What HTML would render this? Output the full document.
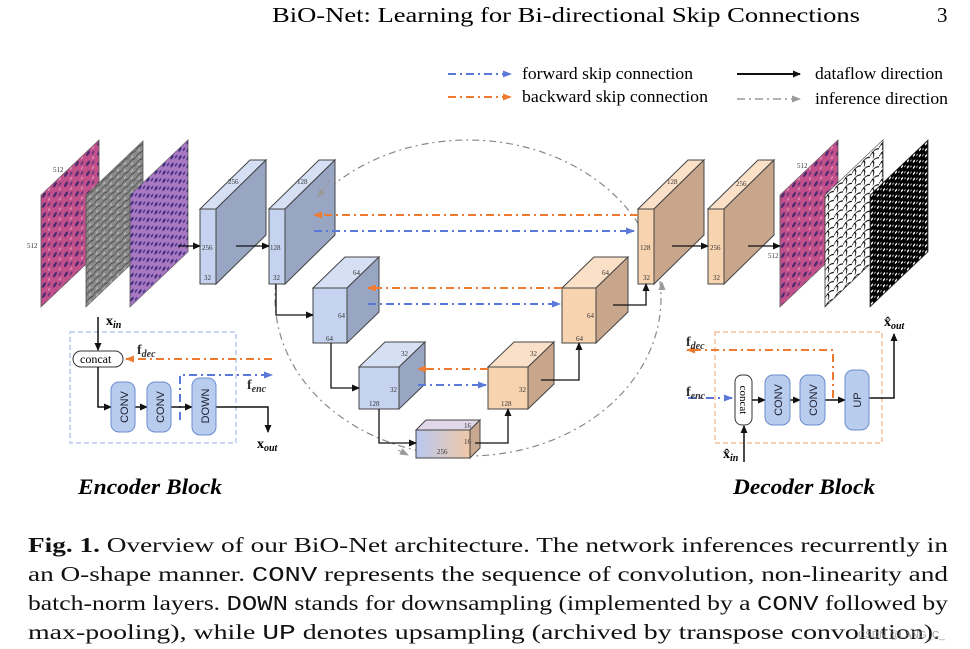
<!DOCTYPE html>
<html><head><meta charset="utf-8"><style>
html,body{margin:0;padding:0;background:#fff;width:970px;height:649px;overflow:hidden}
svg{display:block}
.s{font-family:"Liberation Serif",serif}
.m{font-family:"Liberation Mono",monospace}
.sm{font-family:"Liberation Serif",serif;font-size:7px;fill:#333}
.box{font-family:"Liberation Sans",sans-serif;font-size:11px;fill:#223}
</style></head><body>
<svg width="970" height="649" viewBox="0 0 970 649" xmlns="http://www.w3.org/2000/svg">
<defs>
<marker id="ak" markerWidth="8" markerHeight="8" refX="7" refY="4" orient="auto" markerUnits="userSpaceOnUse"><path d="M0,0.5 L8,4 L0,7.5 z" fill="#111"/></marker>
<marker id="ab" markerWidth="9" markerHeight="8" refX="8" refY="4" orient="auto" markerUnits="userSpaceOnUse"><path d="M0,0.5 L9,4 L0,7.5 z" fill="#5a78d8"/></marker>
<marker id="ao" markerWidth="9" markerHeight="8" refX="8" refY="4" orient="auto" markerUnits="userSpaceOnUse"><path d="M0,0.5 L9,4 L0,7.5 z" fill="#ee7b30"/></marker>
<marker id="ag" markerWidth="9" markerHeight="8" refX="8" refY="4" orient="auto" markerUnits="userSpaceOnUse"><path d="M0,0.5 L9,4 L0,7.5 z" fill="#999"/></marker>
<pattern id="pk" width="11" height="10" patternUnits="userSpaceOnUse"><rect width="11" height="10" fill="#c2508a"/><circle cx="3" cy="3" r="2" fill="#4a2a70"/><circle cx="8" cy="7" r="1.5" fill="#6a3a80"/><circle cx="8" cy="2" r="1" fill="#e89ac0"/></pattern>
<pattern id="pg" width="7" height="7" patternUnits="userSpaceOnUse"><rect width="7" height="7" fill="#8a8a8a"/><path d="M0,3 Q3,0 7,3" stroke="#444" fill="none"/><circle cx="4" cy="5.5" r="1" fill="#bbb"/></pattern>
<pattern id="pp" width="8" height="8" patternUnits="userSpaceOnUse"><rect width="8" height="8" fill="#a878c0"/><circle cx="2" cy="2" r="1.6" fill="#3a2a78"/><circle cx="6" cy="5.5" r="1.3" fill="#4a3090"/></pattern>
<pattern id="pw" width="9" height="9" patternUnits="userSpaceOnUse"><rect width="9" height="9" fill="#fff"/><path d="M0,4 Q4,0 9,5 M3,9 Q5,5 2,2" stroke="#000" fill="none" stroke-width="0.9"/></pattern>
<pattern id="pb" width="6" height="6" patternUnits="userSpaceOnUse"><rect width="6" height="6" fill="#000"/><circle cx="2" cy="2" r="1.1" fill="#fff"/><circle cx="5" cy="4.5" r="0.7" fill="#fff"/></pattern>
<linearGradient id="gr" x1="0" x2="1" y1="0" y2="0"><stop offset="0" stop-color="#b8c8f0"/><stop offset="1" stop-color="#f0c8a8"/></linearGradient>
</defs>

<text x="272" y="22" class="s" font-size="21" textLength="588" lengthAdjust="spacingAndGlyphs">BiO-Net: Learning for Bi-directional Skip Connections</text>
<text x="937" y="22" class="s" font-size="21">3</text>

<line x1="448" y1="74" x2="511" y2="74" stroke="#5a78d8" stroke-width="2" stroke-dasharray="8,4,2,4" marker-end="url(#ab)"/>
<text x="522" y="79" class="s" font-size="17" textLength="171" lengthAdjust="spacingAndGlyphs">forward skip connection</text>
<line x1="448" y1="97" x2="511" y2="97" stroke="#ee7b30" stroke-width="2" stroke-dasharray="8,4,2,4" marker-end="url(#ao)"/>
<text x="522" y="102" class="s" font-size="17" textLength="186" lengthAdjust="spacingAndGlyphs">backward skip connection</text>
<line x1="737" y1="74" x2="800" y2="74" stroke="#111" stroke-width="2" marker-end="url(#ak)"/>
<text x="815" y="79" class="s" font-size="17" textLength="128" lengthAdjust="spacingAndGlyphs">dataflow direction</text>
<line x1="737" y1="99" x2="800" y2="99" stroke="#999" stroke-width="1.6" stroke-dasharray="8,4,2,4" marker-end="url(#ag)"/>
<text x="815" y="104" class="s" font-size="17" textLength="133" lengthAdjust="spacingAndGlyphs">inference direction</text>

<ellipse cx="468" cy="298" rx="193" ry="158" fill="none" stroke="#888" stroke-width="1.2" stroke-dasharray="7,4,2,4"/>

<g transform="matrix(1,-0.95,0,1,41,195)"><rect width="58" height="112" fill="url(#pk)" stroke="#555" stroke-width="0.8"/></g>
<g transform="matrix(1,-0.95,0,1,86,195)"><rect width="57" height="112" fill="url(#pg)" stroke="#555" stroke-width="0.8"/></g>
<g transform="matrix(1,-0.95,0,1,130,195)"><rect width="58" height="112" fill="url(#pp)" stroke="#555" stroke-width="0.8"/></g>
<text x="53" y="172" class="sm">512</text>
<text x="27" y="248" class="sm">512</text>

<g transform="matrix(1,-0.95,0,1,780,195)"><rect width="58" height="112" fill="url(#pk)" stroke="#555" stroke-width="0.8"/></g>
<g transform="matrix(1,-0.95,0,1,825,195)"><rect width="58" height="112" fill="url(#pw)" stroke="#333" stroke-width="0.8"/></g>
<g transform="matrix(1,-0.95,0,1,870,195)"><rect width="58" height="112" fill="url(#pb)" stroke="#333" stroke-width="0.8"/></g>
<text x="797" y="168" class="sm">512</text>
<text x="768" y="258" class="sm">512</text>

<g stroke="#444" stroke-width="1">
<polygon points="200,209 250,160 266,160 216,209" fill="#d6e0f5"/>
<polygon points="216,209 266,160 266,235 216,284" fill="#98a6c4"/>
<rect x="200" y="209" width="16" height="75" fill="#c5d3f0"/>
<polygon points="269,209 319,160 335,160 285,209" fill="#d6e0f5"/>
<polygon points="285,209 335,160 335,235 285,284" fill="#98a6c4"/>
<rect x="269" y="209" width="16" height="75" fill="#c5d3f0"/>
<polygon points="313,288 345,257 379,257 347,288" fill="#d6e0f5"/>
<polygon points="347,288 379,257 379,312 347,343" fill="#98a6c4"/>
<rect x="313" y="288" width="34" height="55" fill="#c5d3f0"/>
<polygon points="359,367 385,342 425,342 399,367" fill="#d6e0f5"/>
<polygon points="399,367 425,342 425,384 399,409" fill="#98a6c4"/>
<rect x="359" y="367" width="40" height="42" fill="#c5d3f0"/>
<polygon points="416,430 426,420 480,420 470,430" fill="#e0d8e8"/>
<polygon points="470,430 480,420 480,448 470,458" fill="#c8a88e"/>
<rect x="416" y="430" width="54" height="28" fill="url(#gr)"/>
<polygon points="638,209 688,160 704,160 654,209" fill="#fbe0c8"/>
<polygon points="654,209 704,160 704,235 654,284" fill="#c8a68c"/>
<rect x="638" y="209" width="16" height="75" fill="#f8d3b0"/>
<polygon points="708,209 758,160 774,160 724,209" fill="#fbe0c8"/>
<polygon points="724,209 774,160 774,235 724,284" fill="#c8a68c"/>
<rect x="708" y="209" width="16" height="75" fill="#f8d3b0"/>
<polygon points="562,288 594,257 628,257 596,288" fill="#fbe0c8"/>
<polygon points="596,288 628,257 628,312 596,343" fill="#c8a68c"/>
<rect x="562" y="288" width="34" height="55" fill="#f8d3b0"/>
<polygon points="488,367 514,342 554,342 528,367" fill="#fbe0c8"/>
<polygon points="528,367 554,342 554,384 528,409" fill="#c8a68c"/>
<rect x="488" y="367" width="40" height="42" fill="#f8d3b0"/>
</g>
<g class="sm">
<text x="228" y="184">256</text><text x="202" y="250">256</text><text x="204" y="280">32</text>
<text x="297" y="184">128</text><text x="270" y="250">128</text><text x="273" y="280">32</text>
<text x="353" y="275">64</text><text x="338" y="318">64</text><text x="326" y="341">64</text>
<text x="401" y="356">32</text><text x="390" y="392">32</text><text x="369" y="406">128</text>
<text x="464" y="428">16</text><text x="464" y="444">16</text><text x="437" y="454">256</text>
<text x="667" y="184">128</text><text x="640" y="250">128</text><text x="643" y="280">32</text>
<text x="736" y="186">256</text><text x="710" y="250">256</text><text x="713" y="280">32</text>
<text x="602" y="275">64</text><text x="587" y="318">64</text><text x="576" y="341">64</text>
<text x="530" y="356">32</text><text x="519" y="392">32</text><text x="501" y="406">128</text>
</g>

<g stroke-width="2" stroke-dasharray="8,4,2,4" fill="none">
<line x1="638" y1="215" x2="314" y2="215" stroke="#ee7b30" marker-end="url(#ao)"/>
<line x1="314" y1="231" x2="634" y2="231" stroke="#5a78d8" marker-end="url(#ab)"/>
<line x1="562" y1="288" x2="368" y2="288" stroke="#ee7b30" marker-end="url(#ao)"/>
<line x1="368" y1="304" x2="560" y2="304" stroke="#5a78d8" marker-end="url(#ab)"/>
<line x1="488" y1="369" x2="418" y2="369" stroke="#ee7b30" marker-end="url(#ao)"/>
<line x1="418" y1="385" x2="486" y2="385" stroke="#5a78d8" marker-end="url(#ab)"/>
</g>
<line x1="330" y1="180" x2="318" y2="197" stroke="#999" stroke-width="1" marker-end="url(#ag)"/>
<line x1="662" y1="290" x2="662" y2="282" stroke="#999" stroke-width="1" marker-end="url(#ag)"/>
<line x1="398" y1="450" x2="408" y2="455" stroke="#999" stroke-width="1" marker-end="url(#ag)"/>

<g stroke="#111" stroke-width="1.3" fill="none" marker-end="url(#ak)">
<line x1="178" y1="246" x2="200" y2="246"/>
<line x1="236" y1="246" x2="269" y2="246"/>
<polyline points="276,284 276,315 313,315"/>
<polyline points="331,343 331,388 359,388"/>
<polyline points="379,409 379,443 416,443"/>
<polyline points="475,443 508,443 508,409"/>
<polyline points="541,380 579,380 579,343"/>
<polyline points="613,305 646,305 646,284"/>
<line x1="672" y1="246" x2="708" y2="246"/>
<line x1="748" y1="246" x2="780" y2="246"/>
</g>

<rect x="70" y="332" width="166" height="111" fill="none" stroke="#b8c8f0" stroke-width="1.5" stroke-dasharray="5,3"/>
<line x1="98" y1="317" x2="98" y2="350" stroke="#111" stroke-width="1.5" marker-end="url(#ak)"/>
<text x="106" y="325" class="s" font-size="14" font-weight="bold">x<tspan font-size="10" font-style="italic" dy="3">in</tspan></text>
<rect x="73" y="351" width="50" height="16" rx="8" fill="#fff" stroke="#333"/>
<text x="80" y="363" class="s" font-size="12">concat</text>
<line x1="272" y1="359" x2="126" y2="359" stroke="#ee7b30" stroke-width="2" stroke-dasharray="8,4,2,4" marker-end="url(#ao)"/>
<text x="137" y="354" class="s" font-size="14" font-weight="bold" fill="#333">f<tspan font-size="10" font-style="italic" dy="3">dec</tspan></text>
<polyline points="180,420 180,375 272,375" fill="none" stroke="#5a78d8" stroke-width="2" stroke-dasharray="8,4,2,4" marker-end="url(#ab)"/>
<text x="247" y="389" class="s" font-size="14" font-weight="bold" fill="#333">f<tspan font-size="10" font-style="italic" dy="3">enc</tspan></text>
<polyline points="98,367 98,407 111,407" fill="none" stroke="#111" stroke-width="1.5" marker-end="url(#ak)"/>
<line x1="135" y1="407" x2="147" y2="407" stroke="#111" stroke-width="1.5" marker-end="url(#ak)"/>
<line x1="171" y1="407" x2="192" y2="407" stroke="#111" stroke-width="1.5" marker-end="url(#ak)"/>
<polyline points="216,407 268,407 268,432" fill="none" stroke="#111" stroke-width="1.5" marker-end="url(#ak)"/>
<g fill="#b8ccee" stroke="#6b8ccf" stroke-width="1">
<rect x="111" y="382" width="24" height="50" rx="8"/>
<rect x="147" y="382" width="24" height="50" rx="8"/>
<rect x="192" y="378" width="24" height="57" rx="8"/>
</g>
<text transform="translate(128,407) rotate(-90)" text-anchor="middle" class="box">CONV</text>
<text transform="translate(164,407) rotate(-90)" text-anchor="middle" class="box">CONV</text>
<text transform="translate(209,406) rotate(-90)" text-anchor="middle" class="box">DOWN</text>
<text x="257" y="448" class="s" font-size="14" font-weight="bold">x<tspan font-size="10" font-style="italic" dy="3">out</tspan></text>
<text x="78" y="494" class="s" font-size="22" font-weight="bold" font-style="italic" textLength="144" lengthAdjust="spacingAndGlyphs">Encoder Block</text>

<rect x="715" y="332" width="167" height="111" fill="none" stroke="#f5c0a0" stroke-width="1.5" stroke-dasharray="5,3"/>
<line x1="688" y1="398" x2="732" y2="398" stroke="#5a78d8" stroke-width="2" stroke-dasharray="8,4,2,4" marker-end="url(#ab)"/>
<text x="686" y="396" class="s" font-size="14" font-weight="bold" fill="#333">f<tspan font-size="10" font-style="italic" dy="3">enc</tspan></text>
<polyline points="833,398 833,350 687,350" fill="none" stroke="#ee7b30" stroke-width="2" stroke-dasharray="8,4,2,4" marker-end="url(#ao)"/>
<text x="686" y="346" class="s" font-size="14" font-weight="bold" fill="#333">f<tspan font-size="10" font-style="italic" dy="3">dec</tspan></text>
<line x1="744" y1="462" x2="744" y2="426" stroke="#111" stroke-width="1.5" marker-end="url(#ak)"/>
<text x="723" y="458" class="s" font-size="14" font-weight="bold">x̂<tspan font-size="10" font-style="italic" dy="3">in</tspan></text>
<line x1="752" y1="400" x2="765" y2="400" stroke="#111" stroke-width="1.5" marker-end="url(#ak)"/>
<line x1="790" y1="400" x2="800" y2="400" stroke="#111" stroke-width="1.5" marker-end="url(#ak)"/>
<line x1="825" y1="400" x2="845" y2="400" stroke="#111" stroke-width="1.5" marker-end="url(#ak)"/>
<polyline points="869,398 894,398 894,334" fill="none" stroke="#111" stroke-width="1.5" marker-end="url(#ak)"/>
<text x="884" y="326" class="s" font-size="14" font-weight="bold">x̂<tspan font-size="10" font-style="italic" dy="3">out</tspan></text>
<rect x="735" y="375" width="17" height="50" rx="7" fill="#fff" stroke="#333"/>
<text transform="translate(740,400) rotate(90)" text-anchor="middle" class="s" font-size="11">concat</text>
<g fill="#b8ccee" stroke="#6b8ccf" stroke-width="1">
<rect x="765" y="375" width="25" height="50" rx="8"/>
<rect x="800" y="375" width="25" height="50" rx="8"/>
<rect x="845" y="370" width="24" height="60" rx="8"/>
</g>
<text transform="translate(782,400) rotate(-90)" text-anchor="middle" class="box">CONV</text>
<text transform="translate(817,400) rotate(-90)" text-anchor="middle" class="box">CONV</text>
<text transform="translate(861,400) rotate(-90)" text-anchor="middle" class="box">UP</text>
<text x="733" y="494" class="s" font-size="22" font-weight="bold" font-style="italic" textLength="142" lengthAdjust="spacingAndGlyphs">Decoder Block</text>

<g class="s" font-size="21" fill="#111">
<text x="28" y="552" textLength="920" lengthAdjust="spacingAndGlyphs"><tspan font-weight="bold">Fig. 1.</tspan> Overview of our BiO-Net architecture. The network inferences recurrently in</text>
<text x="28" y="581" textLength="920" lengthAdjust="spacingAndGlyphs">an O-shape manner. <tspan class="m">CONV</tspan> represents the sequence of convolution, non-linearity and</text>
<text x="28" y="610" textLength="920" lengthAdjust="spacingAndGlyphs">batch-norm layers. <tspan class="m">DOWN</tspan> stands for downsampling (implemented by a <tspan class="m">CONV</tspan> followed by</text>
<text x="28" y="639" textLength="912" lengthAdjust="spacingAndGlyphs">max-pooling), while <tspan class="m">UP</tspan> denotes upsampling (archived by transpose convolution).</text>
</g>
<text x="858" y="638" font-family="Liberation Sans,sans-serif" font-size="10" fill="#888" opacity="0.8">CSDN @LANG_C_</text>
</svg>
</body></html>
